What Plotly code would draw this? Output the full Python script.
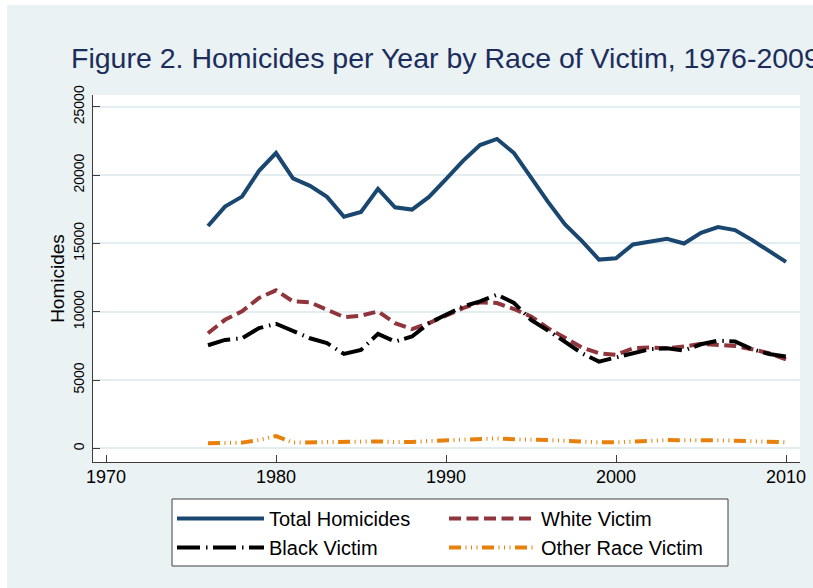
import plotly.graph_objects as go

# ---------------- data ----------------
years = list(range(1976, 2011))
total_homicides = [16280, 17700, 18430, 20320, 21620, 19760, 19220, 18410, 16960, 17300,
                   19000, 17650, 17480, 18410, 19710, 21050, 22210, 22650, 21620, 19830,
                   18040, 16400, 15170, 13820, 13920, 14930, 15170, 15340, 15000, 15780,
                   16200, 15980, 15250, 14490, 13650]
white_victim = [8430, 9410, 10030, 11010, 11570, 10760, 10690, 10150, 9610, 9710,
                10030, 9170, 8730, 9170, 9710, 10270, 10690, 10640, 10200, 9660,
                8800, 8060, 7380, 6960, 6840, 7330, 7380, 7330, 7450, 7650,
                7570, 7500, 7260, 6960, 6520]
black_victim = [7550, 7940, 8060, 8800, 9120, 8550, 8060, 7700, 6910, 7210,
                8380, 7820, 8190, 9170, 9780, 10390, 10760, 11250, 10640, 9410,
                8630, 7820, 6960, 6350, 6670, 6960, 7260, 7330, 7160, 7620,
                7890, 7820, 7260, 6910, 6720]
other_victim = [370, 370, 420, 610, 900, 420, 440, 440, 420, 440,
                510, 460, 460, 540, 590, 680, 710, 730, 660, 660,
                610, 560, 490, 440, 440, 510, 560, 610, 590, 610,
                590, 560, 510, 490, 440]

series_names = ["Total Homicides", "White Victim", "Black Victim", "Other Race Victim"]
x_ticks = [1970, 1980, 1990, 2000, 2010]
y_ticks = [0, 5000, 10000, 15000, 20000, 25000]
title_text = "Figure 2. Homicides per Year by Race of Victim, 1976-2009"
y_title = "Homicides"

# ---------------- layout geometry ----------------
FIG_W, FIG_H = 813, 588
L, R, T, B = 93, 800, 95, 462          # plot area in pixels
PW, PH = R - L, B - T


def px_x(x):
    return (x - L) / PW


def px_y(y):
    return (B - y) / PH


FONT = "Liberation Sans, Arial, Helvetica, sans-serif"
BG = "#eaf2f3"
AXIS = "#3c3c3c"

styles = [
    dict(color="#1a476f", width=4, dash="solid"),
    dict(color="#90353b", width=4, dash="12px,5.5px"),
    dict(color="#000000", width=4, dash="23px,6px,1.5px,5.5px"),
    dict(color="#e8800d", width=4, dash="12px,4.5px,1px,4.5px,1px,4.5px,1px,4.5px"),
]
values = [total_homicides, white_victim, black_victim, other_victim]

fig = go.Figure()
for name, vals, st in zip(series_names, values, styles):
    fig.add_trace(go.Scatter(x=years, y=vals, mode="lines", name=name, line=st))

fig.update_layout(
    width=FIG_W, height=FIG_H,
    margin=dict(l=L, r=FIG_W - R, t=T, b=FIG_H - B, autoexpand=False),
    paper_bgcolor=BG,
    plot_bgcolor="white",
    font=dict(family=FONT, color="black"),
    title=dict(text=title_text, x=71 / FIG_W, xanchor="left", xref="container",
               y=1 - 58 / FIG_H, yanchor="middle", yref="container",
               font=dict(size=28.5, color="#1c2d5c", family=FONT)),
    showlegend=True,
    legend=dict(orientation="h", x=px_x(172), xanchor="left", y=px_y(499), yanchor="top",
                bgcolor="rgba(0,0,0,0)", borderwidth=0,
                font=dict(size=20, family=FONT), itemwidth=87,
                entrywidth=170, entrywidthmode="pixels", traceorder="normal"),
    shapes=[
        # thin white strips at the top and left edge of the picture
        dict(type="rect", xref="paper", yref="paper", layer="below",
             x0=px_x(0), x1=px_x(FIG_W), y0=px_y(5), y1=px_y(0),
             fillcolor="white", line=dict(width=0)),
        dict(type="rect", xref="paper", yref="paper", layer="below",
             x0=px_x(0), x1=px_x(7), y0=px_y(FIG_H), y1=px_y(0),
             fillcolor="white", line=dict(width=0)),
        # legend frame
        dict(type="rect", xref="paper", yref="paper", layer="above",
             x0=px_x(172), x1=px_x(728), y0=px_y(566), y1=px_y(499),
             fillcolor="white", line=dict(width=1, color="#404040")),
    ],
)

fig.update_xaxes(range=[1970 - (106 - L) / 17.0, 2010 + (R - 786) / 17.0],
                 tickvals=x_ticks, tickformat="d",
                 showgrid=False, zeroline=False,
                 showline=True, linecolor=AXIS, linewidth=1.2,
                 ticks="inside", ticklen=7, tickcolor=AXIS, tickwidth=1.2,
                 ticklabelstandoff=-2,
                 tickfont=dict(size=18, color="black"))
fig.update_yaxes(range=[-1000, 25870],
                 tickvals=y_ticks, tickformat="d", tickangle=-90,
                 showgrid=True, gridcolor="#e3ecef", gridwidth=1.5,
                 zeroline=False,
                 showline=True, linecolor=AXIS, linewidth=1.2,
                 ticks="inside", ticklen=7, tickcolor=AXIS, tickwidth=1.2,
                 ticklabelstandoff=2,
                 tickfont=dict(size=14, color="black"),
                 title=dict(text=y_title, standoff=1, font=dict(size=19, color="black")))

fig.write_html(
    "out.html",
    config={"displayModeBar": False},
    post_script="document.body.style.margin='0px';document.body.style.overflow='hidden';",
)
